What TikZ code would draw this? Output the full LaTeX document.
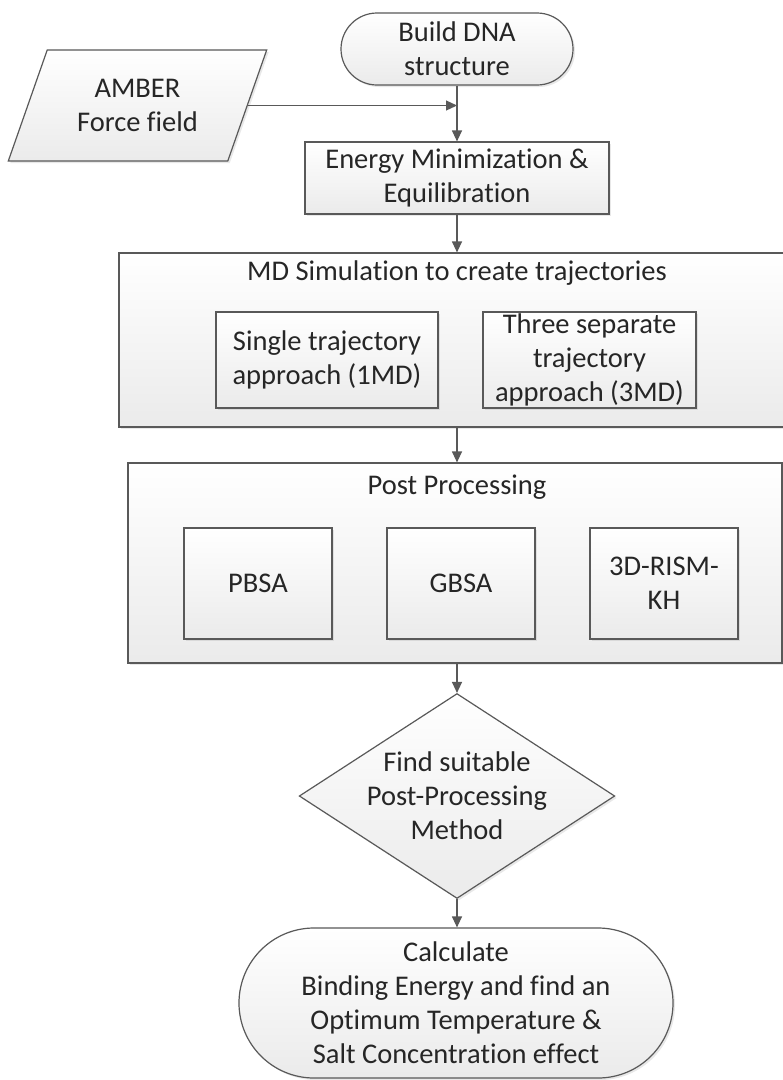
\documentclass[tikz,border=0pt]{standalone}
\usepackage{fontspec}
\setmainfont{Carlito}[Ligatures=NoCommon]
\usetikzlibrary{shapes.geometric,arrows.meta,shadows}
\definecolor{edge}{HTML}{595959}
\definecolor{ink}{HTML}{262626}
\begin{document}
\begin{tikzpicture}[x=1pt,y=-1pt,line width=1.2pt,>={Triangle[length=11pt,width=10pt]}]
	\tikzstyle{box}=[rectangle,draw=edge,top color=white,bottom color=gray!16,text=ink,align=center,inner sep=0pt,font=\fontsize{28.5}{34}\selectfont,drop shadow={shadow xshift=2pt,shadow yshift=-2pt,opacity=0.18}]
	\tikzstyle{terminal}=[box,rounded corners=36pt]
	\tikzstyle{data}=[box,trapezium,trapezium left angle=63.6,trapezium right angle=116.4,trapezium stretches=true]
	\tikzstyle{decision}=[box,diamond,aspect=1.54]
	\tikzstyle{caption}=[text=ink,align=center,inner sep=0pt,font=\fontsize{28.5}{34}\selectfont]
	\tikzstyle{link}=[draw=edge,->]
	\useasboundingbox[fill=white] (0,0) rectangle (783,1080);

	\node[terminal, minimum width=232pt, minimum height=72pt] (build) at (457,49) {Build DNA\\structure};
	\node[data, minimum width=259pt, minimum height=111pt] (amber) at (137.5,105.5) {AMBER\\Force field};
	\node[box, minimum width=304pt, minimum height=72pt] (energy) at (457,178) {Energy Minimization \&\\Equilibration};

	% MD stage
	\node[box, minimum width=673pt, minimum height=174pt] (mdsim) at (455.5,340) {};
	\node[caption] (mdtitle) at (457,273) {MD Simulation to create trajectories};
	\node[box, minimum width=222pt, minimum height=96pt] (single) at (327,360) {Single trajectory\\approach (1MD)};
	\node[box, minimum width=213pt, minimum height=96pt] (three) at (589.5,360) {Three separate\\trajectory\\approach (3MD)};

	% post processing stage
	\node[box, minimum width=654pt, minimum height=200pt] (post) at (455,563) {};
	\node[caption] (posttitle) at (457,487) {Post Processing};
	\node[box, minimum width=148pt, minimum height=111pt] (pbsa) at (258,583.5) {PBSA};
	\node[box, minimum width=148pt, minimum height=111pt] (gbsa) at (461,583.5) {GBSA};
	\node[box, minimum width=148pt, minimum height=111pt] (rism) at (664,583.5) {3D-RISM-\\KH};

	\node[decision, minimum width=311pt, minimum height=202pt] (decide) at (457,796) {Find suitable\\Post-Processing\\Method};
	\node[terminal, rounded corners=75pt, minimum width=434pt, minimum height=150pt] (calc) at (456,1003) {Calculate\\Binding Energy and find an\\Optimum Temperature \&\\Salt Concentration effect};

	\draw[link] (build) -- (energy);
	\draw[link] (amber.east) -- (amber.east -| build.south);
	\draw[link] (energy) -- (energy |- mdsim.north);
	\draw[link] (energy |- mdsim.south) -- (energy |- post.north);
	\draw[link] (energy |- post.south) -- (decide);
	\draw[link] (decide) -- (decide |- calc.north);
\end{tikzpicture}
\end{document}
